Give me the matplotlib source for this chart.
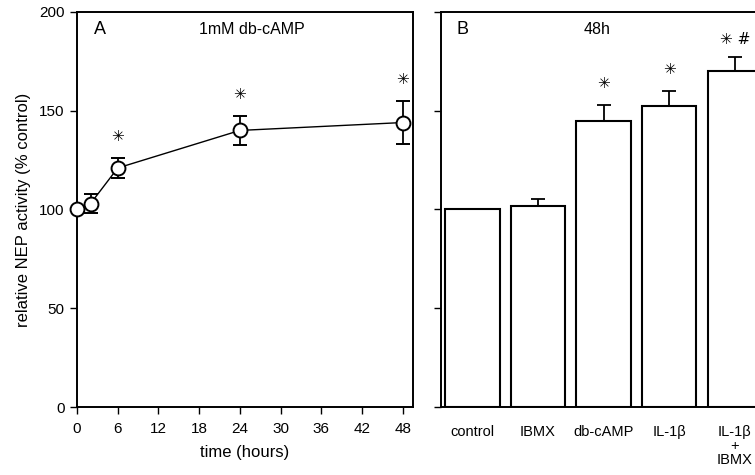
import matplotlib
matplotlib.use('Agg')
import matplotlib.pyplot as plt

plt.rcParams['font.family'] = ['Liberation Sans', 'DejaVu Sans']
plt.rcParams['font.size'] = 11

# panel A: time course with 1mM db-cAMP
hours = [0, 2, 6, 24, 48]
activity = [100, 103, 121, 140, 144]
activity_err = [0, 5, 5, 7.5, 11]
star_hours = [6, 24, 48]
star_y = [137, 158, 166]

# panel B: treatments at 48h
treatments = ['control', 'IBMX', 'db-cAMP', 'IL-1β', 'IL-1β\n+\nIBMX']
treat_mean = [100, 102, 145, 152.5, 170]
treat_err = [0, 3.5, 8, 7.5, 7]
treat_marks = ['', '', '✳', '✳', '✳ #']
mark_y = [0, 0, 164, 171, 186]

fig = plt.figure(figsize=(7.55, 4.75), dpi=100)
axA = fig.add_axes([0.102, 0.143, 0.445, 0.832])
axB = fig.add_axes([0.584, 0.143, 0.45, 0.832])

# --- A ---
axA.errorbar(hours, activity, yerr=activity_err, color='black', lw=1,
             elinewidth=1.3, capsize=5, capthick=1.3, marker='o',
             markersize=10, markerfacecolor='white', markeredgecolor='black',
             markeredgewidth=1.4, clip_on=False, zorder=3)
for h, y in zip(star_hours, star_y):
    axA.text(h, y, '✳', ha='center', va='center', fontsize=11,
             family=['DejaVu Sans'])
axA.set_xlim(0, 49.5)
axA.set_ylim(0, 200)
axA.set_xticks(range(0, 49, 6))
axA.set_yticks([0, 50, 100, 150, 200])
axA.set_xlabel('time (hours)', fontsize=12, labelpad=6)
axA.set_ylabel('relative NEP activity (% control)', fontsize=12, labelpad=6)
axA.text(0.05, 0.955, 'A', transform=axA.transAxes, fontsize=13, va='center')
axA.text(0.52, 0.955, '1mM db-cAMP', transform=axA.transAxes, fontsize=11.5,
         ha='center', va='center')

# --- B ---
pos = list(range(len(treatments)))
axB.bar(pos, treat_mean, width=0.83, color='white', edgecolor='black',
        linewidth=1.5, zorder=2)
axB.errorbar(pos, treat_mean, yerr=[[0] * len(pos), treat_err], fmt='none',
             ecolor='black', elinewidth=1.3, capsize=5, capthick=1.3, zorder=3)
for p, m, y in zip(pos, treat_marks, mark_y):
    if m:
        axB.text(p, y, m, ha='center', va='center', fontsize=11,
                 family=['DejaVu Sans'])
axB.set_xlim(-0.48, 4.7)
axB.set_ylim(0, 200)
axB.set_yticks([0, 50, 100, 150, 200])
axB.set_yticklabels([])
axB.set_xticks(pos)
axB.set_xticklabels(treatments, fontsize=10.5, va='top', linespacing=1.0)
axB.tick_params(axis='x', length=0, pad=13)
axB.text(0.045, 0.955, 'B', transform=axB.transAxes, fontsize=13, va='center')
axB.text(0.46, 0.955, '48h', transform=axB.transAxes, fontsize=11.5,
         ha='center', va='center')

for ax in (axA, axB):
    for s in ax.spines.values():
        s.set_linewidth(1.4)
    ax.tick_params(axis='y', direction='out', length=5, width=1, pad=4)
axA.tick_params(axis='x', direction='out', length=5, width=1, pad=6)

fig.savefig('out.png', dpi=100)
